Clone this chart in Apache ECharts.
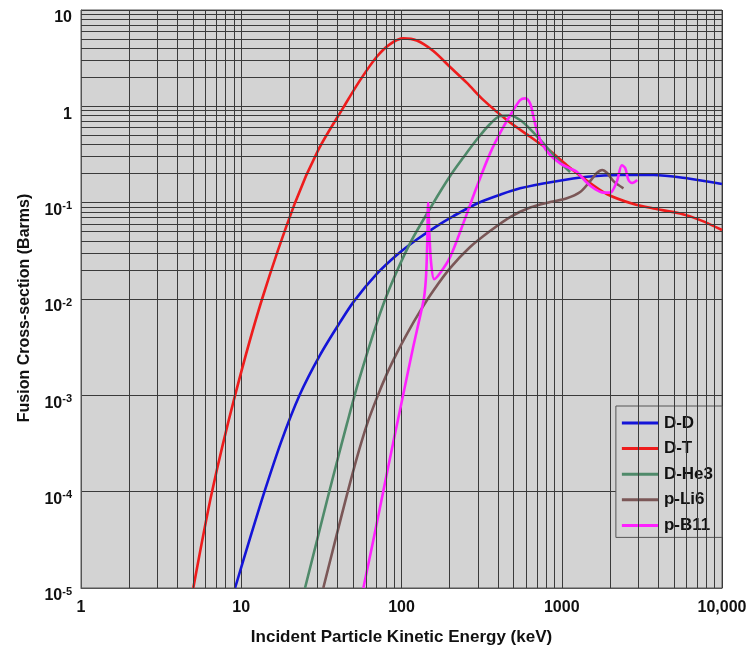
<!DOCTYPE html>
<html>
<head>
<meta charset="utf-8">
<script src="https://cdn.jsdelivr.net/npm/echarts@6/dist/echarts.min.js"></script>
<style>html,body{margin:0;padding:0;background:#fff;}#c{width:749px;height:648px;}</style>
</head>
<body>
<div id="c"></div>
<script>
// ---- data (energy keV, cross-section barns) ----
var seriesNames = ['D-D', 'D-T', 'D-He3', 'p-Li6', 'p-B11'];
var xTickLabels = ['1', '10', '100', '1000', '10,000'];

var ddE = [9.15, 11.35, 13.96, 17.72, 23.1, 31.0, 41.4, 50.6, 70.1, 93.5, 124.6, 166, 211, 301, 413, 550, 888, 1435, 2315, 3737, 6040, 10000];
var ddS = [1e-5, 3.29e-5, 1e-4, 3.27e-4, 1e-3, 2.61e-3, 5.75e-3, 9.5e-3, 0.0182, 0.0286, 0.0414, 0.0572, 0.0726, 0.0991, 0.121, 0.141, 0.165, 0.186, 0.194, 0.194, 0.179, 0.156];

var dtE = [5.02, 6.57, 9.15, 13.49, 21.67, 30.2, 43.8, 55.2, 70.1, 84.9, 102.8, 124.6, 158, 201, 256, 325, 454, 635, 847, 1076, 1366, 1910, 2805, 3737, 5480, 7310, 10000];
var dtS = [1e-5, 1e-4, 1e-3, 1e-2, 0.1, 0.351, 1.0, 1.87, 3.27, 4.43, 5.08, 4.82, 3.75, 2.56, 1.75, 1.16, 0.72, 0.483, 0.343, 0.245, 0.18, 0.123, 0.0966, 0.087, 0.077, 0.0659, 0.052];

var dhe3E = [25.0, 29.6, 34.2, 39.5, 45.6, 53.8, 70.1, 84.9, 113.2, 155.2, 201, 243, 295, 357, 413, 476, 550, 635, 769, 932, 1128];
var dhe3S = [1e-5, 3.06e-5, 7.96e-5, 2.02e-4, 5.02e-4, 1.37e-3, 5.62e-3, 0.0133, 0.038, 0.0944, 0.189, 0.294, 0.452, 0.655, 0.793, 0.803, 0.721, 0.581, 0.413, 0.284, 0.208];

var pli6E = [32.5, 39.5, 45.6, 52.6, 60.7, 70.1, 80.9, 93.5, 108, 130.7, 157.5, 201, 268, 357, 476, 635, 847, 1066, 1303, 1504, 1656, 1788, 1920, 2102, 2427];
var pli6S = [1e-5, 3.62e-5, 9.2e-5, 2.23e-4, 4.91e-4, 9.35e-4, 1.66e-3, 2.74e-3, 4.33e-3, 7.48e-3, 0.0121, 0.0209, 0.0346, 0.0507, 0.0708, 0.0889, 0.1014, 0.1104, 0.129, 0.1675, 0.203, 0.218, 0.203, 0.1675, 0.141];

var pb11E = [57.8, 66.5, 76.8, 88.6, 102.3, 118.2, 130.7, 138.4, 142.4, 144.9, 146.6, 149.4, 153.1, 159.8, 174.2, 201, 243, 295, 357, 433, 500, 550, 591, 635, 666, 699, 751, 847, 977, 1128, 1241, 1420, 1615, 1820, 2004, 2207, 2372, 2488, 2609, 2750, 2958];
var pb11S = [1e-5, 3.06e-5, 9.9e-5, 3.19e-4, 1e-3, 3.16e-3, 6.64e-3, 0.0105, 0.0177, 0.041, 0.099, 0.0461, 0.0236, 0.0161, 0.0186, 0.0272, 0.061, 0.146, 0.325, 0.614, 0.917, 1.16, 1.21, 1.07, 0.78, 0.567, 0.413, 0.312, 0.256, 0.226, 0.209, 0.164, 0.138, 0.127, 0.127, 0.166, 0.245, 0.229, 0.172, 0.16, 0.172];

var colors = ['#1414d8', '#ee1c1c', '#4f8a6a', '#7b5757', '#ff20ff'];

function zip(a, b) { var r = []; for (var i = 0; i < a.length; i++) r.push([a[i], b[i]]); return r; }
var allData = [zip(ddE, ddS), zip(dtE, dtS), zip(dhe3E, dhe3S), zip(pli6E, pli6S), zip(pb11E, pb11S)];

// minor log grid positions (2..9 x 10^k)
var gridLines = [];
for (var k = 0; k <= 3; k++) for (var m = 2; m <= 9; m++) gridLines.push({ xAxis: m * Math.pow(10, k) });
for (var k2 = -5; k2 <= 0; k2++) for (var m2 = 2; m2 <= 9; m2++) gridLines.push({ yAxis: +(m2 * Math.pow(10, k2)).toPrecision(3) });

var FONT = 'Liberation Sans, Arial, Helvetica, sans-serif';
var chart = echarts.init(document.getElementById('c'), null, { renderer: 'canvas' });

var series = [{
  name: 'grid', type: 'line', data: [], z: 1, silent: true,
  markLine: {
    silent: true, symbol: ['none', 'none'], animation: false,
    label: { show: false },
    lineStyle: { color: '#3a3a3a', width: 1, type: 'solid' },
    emphasis: { disabled: true },
    data: gridLines
  }
}];
for (var i = 0; i < seriesNames.length; i++) {
  series.push({
    name: seriesNames[i], type: 'line', data: allData[i], z: 3,
    symbol: 'none', smooth: 0.3,
    lineStyle: { color: colors[i], width: 2.6 },
    itemStyle: { color: colors[i] }
  });
}

chart.setOption({
  animation: false,
  backgroundColor: '#ffffff',
  grid: { left: 81, right: 27, top: 10, bottom: 60, outerBoundsMode: 'none', containLabel: false, show: true, backgroundColor: '#d3d3d3', borderColor: '#555', borderWidth: 1 },
  legend: {
    data: seriesNames, orient: 'vertical', right: 27, top: 406,
    icon: 'rect',
    backgroundColor: '#d3d3d3', borderColor: '#555', borderWidth: 1,
    padding: [8, 9, 3, 6], itemGap: 7.6, itemWidth: 37, itemHeight: 3,
    textStyle: { fontFamily: FONT, fontWeight: 'bold', fontSize: 17, color: '#111', lineHeight: 18 }
  },
  xAxis: {
    type: 'log', logBase: 10, min: 1, max: 10000, splitNumber: 4,
    name: 'Incident Particle Kinetic Energy (keV)', nameLocation: 'middle', nameGap: 41,
    nameTextStyle: { fontFamily: FONT, fontWeight: 'bold', fontSize: 17, color: '#111' },
    axisLine: { show: true, lineStyle: { color: '#555' } },
    axisTick: { show: false },
    splitLine: { show: true, lineStyle: { color: '#3a3a3a', width: 1 } },
    axisLabel: {
      margin: 12, fontFamily: FONT, fontWeight: 'bold', fontSize: 16, color: '#111',
      formatter: function (v) { var e = Math.round(Math.log10(v)); return xTickLabels[e]; }
    }
  },
  yAxis: {
    type: 'log', logBase: 10, min: 1e-5, max: 10, splitNumber: 6,
    name: 'Fusion Cross-section (Barms)', nameLocation: 'middle', nameGap: 48,
    nameTextStyle: { fontFamily: FONT, fontWeight: 'bold', fontSize: 16, color: '#111', padding: [0, 18, 0, 0] },
    axisLine: { show: true, lineStyle: { color: '#555' } },
    axisTick: { show: false },
    splitLine: { show: true, lineStyle: { color: '#3a3a3a', width: 1 } },
    axisLabel: {
      margin: 9, padding: [14, 0, 0, 0],
      formatter: function (v) {
        var e = Math.round(Math.log10(v));
        if (e === 1) return '{b|10}';
        if (e === 0) return '{b|1}';
        return '{b|10}{s|' + e + '}';
      },
      rich: {
        b: { fontFamily: FONT, fontWeight: 'bold', fontSize: 16, color: '#111', lineHeight: 18, verticalAlign: 'bottom' },
        s: { fontFamily: FONT, fontWeight: 'bold', fontSize: 11, color: '#111', lineHeight: 11, verticalAlign: 'top' }
      }
    }
  },
  series: series
});
</script>
</body>
</html>
